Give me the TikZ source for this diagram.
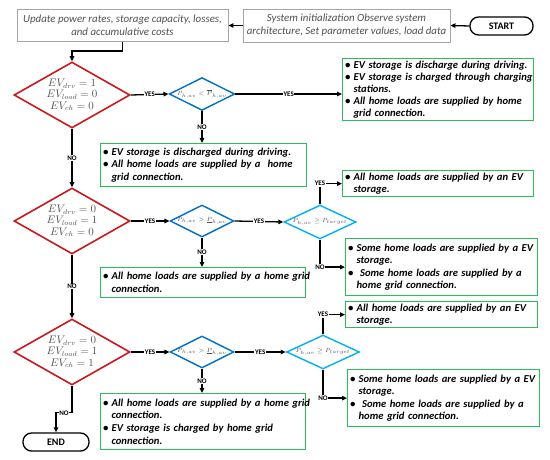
\documentclass[tikz,border=0pt]{standalone}
\usepackage{fontspec}
\usepackage{amsmath}
\newfontfamily\calfont{Carlito}
\usetikzlibrary{shapes.geometric,arrows.meta}
\definecolor{dred}{RGB}{200,25,30}
\definecolor{dblue}{RGB}{0,112,192}
\definecolor{dcyan}{RGB}{0,176,240}
\definecolor{bgreen}{RGB}{40,190,90}
\definecolor{gline}{RGB}{165,165,165}
\definecolor{gtext}{RGB}{80,80,80}
% bullet line helpers: \bo{single line}, \bt{first line}{second line}
\newcommand\bo[1]{\makebox[8.5pt][l]{\textbullet}\mbox{#1}}
\newcommand\bt[2]{\makebox[8.5pt][l]{\textbullet}\mbox{#1}\\\hspace*{8.5pt}\mbox{#2}}
\tikzset{
  gbox/.style={draw=bgreen, line width=1.2pt, rectangle, anchor=north west, inner xsep=2.5pt,
    inner ysep=1pt, align=left, font=\calfont\bfseries\itshape\fontsize{10.6}{12.6}\selectfont},
  graybox/.style={draw=gline, line width=0.9pt, rectangle, align=center, inner sep=2pt,
    text=gtext, font=\calfont\itshape\fontsize{10.9}{13}\selectfont},
  term/.style={draw=black, line width=1.3pt, rounded corners=8.5pt, inner sep=0pt,
    font=\calfont\bfseries\fontsize{10}{10}\selectfont},
  bigdia/.style={diamond, draw=dred, line width=1.6pt, inner sep=0pt, shape aspect=1.76,
    minimum width=116pt, minimum height=66pt, text=gtext, align=center,
    font=\fontsize{10.5}{11.4}\selectfont},
  smdia/.style={diamond, draw=#1, line width=1.4pt, inner sep=0pt, shape aspect=2,
    text=gtext, font=\fontsize{6.3}{7}\selectfont},
  lbl/.style={fill=white, inner sep=0.6pt, font=\calfont\bfseries\fontsize{7}{7}\selectfont},
  arr/.style={draw=black, line width=1.3pt, -{Triangle[length=5pt,width=4.5pt]}},
}
\begin{document}
\begin{tikzpicture}[x=1pt,y=-1pt]
\useasboundingbox (0,0) rectangle (550,460);
% top row
\node[term, minimum width=63pt, minimum height=18pt] (start) at (501.5,26) {START};
\node[graybox, minimum width=207pt, minimum height=33pt] (init) at (346.5,25.5)
  {System initialization Observe system\\architecture, Set parameter values, load data};
\node[graybox, minimum width=211pt, minimum height=32pt] (upd) at (122.5,25.5)
  {Update power rates, storage capacity, losses,\\and accumulative costs};
% decision diamonds
\node[bigdia] (d1) at (72,95) {$EV_{drv}=1$\\$EV_{load}=0$\\$EV_{ch}=0$};
\node[bigdia] (d2) at (72,221) {$EV_{drv}=0$\\$EV_{load}=1$\\$EV_{ch}=0$};
\node[bigdia] (d3) at (72,352) {$EV_{drv}=0$\\$EV_{load}=1$\\$EV_{ch}=1$};
\node[smdia=dblue, minimum width=63pt, minimum height=32pt] (s1) at (202,94) {$P_{h,av}<\overline{P}_{h,av}$};
\node[smdia=dblue, minimum width=63pt, minimum height=32pt] (s2) at (202,221) {$P_{h,av}>\underline{P}_{h,av}$};
\node[smdia=dcyan, minimum width=72pt, minimum height=28pt] (s3) at (320,222) {$P_{h,av}\geq P_{target}$};
\node[smdia=dblue, minimum width=63pt, minimum height=32pt] (s4) at (202,352) {$P_{h,av}>\underline{P}_{h,av}$};
\node[smdia=dcyan, minimum width=73pt, minimum height=28pt] (s5) at (323,352) {$P_{h,av}\geq P_{target}$};
% result boxes
\node[gbox, text width=186pt, minimum height=62pt, font=\calfont\bfseries\itshape\fontsize{10.6}{12.1}\selectfont] (b1) at (342,58)
  {\bo{EV storage is discharge during driving.}\\\bt{EV storage is charged through charging}{stations.}\\\bt{All home loads are supplied by home}{grid connection.}};
\node[gbox, text width=201pt, minimum height=43pt] (b2) at (100,143)
  {\bo{EV storage is discharged during driving.}\\\bt{All home loads are supplied by a~ home}{grid connection.}};
\node[gbox, text width=186pt, minimum height=26pt] (b3) at (342,170)
  {\bt{All home loads are supplied by an EV}{storage.}};
\node[gbox, text width=187pt, minimum height=57pt] (b4) at (345,238)
  {\bt{Some home loads are supplied by a EV}{storage.}\\\bt{~Some home loads are supplied by a}{home grid connection.}};
\node[gbox, text width=200pt, minimum height=30pt] (b5) at (100,267)
  {\bt{All home loads are supplied by a home grid}{connection.}};
\node[gbox, text width=187pt, minimum height=26pt] (b6) at (345,301)
  {\bt{All home loads are supplied by an EV}{storage.}};
\node[gbox, text width=187pt, minimum height=57pt] (b7) at (347,369)
  {\bt{Some home loads are supplied by a EV}{storage.}\\\bt{~Some home loads are supplied by a}{home grid connection.}};
\node[gbox, text width=200pt, minimum height=56pt] (b8) at (100,393)
  {\bt{All home loads are supplied by a home grid}{connection.}\\\bt{EV storage is charged by home grid}{connection.}};
\node[term, minimum width=66pt, minimum height=18pt] (end) at (56,442) {END};
% connectors
\draw[arr] (start.west) -- (init.east);
\draw[arr] (init.west) -- (upd.east);
\draw[arr] (upd.south) -- ++(0,9) -| (d1.north);
\draw[arr] (d1.east) -- node[lbl]{YES} (s1.west);
\draw[arr] (s1.east) -- node[lbl]{YES} (b1.west |- s1.east);
\draw[arr] (s1.south) -- node[lbl]{NO} (s1.south |- b2.north);
\draw[arr] (d1.south) -- node[lbl]{NO} (d2.north);
\draw[arr] (d2.east) -- node[lbl]{YES} (s2.west);
\draw[arr] (s2.east) -- node[lbl]{YES} (s3.west);
\draw[arr] (s3.north) |- node[lbl]{YES} (b3.west);
\draw[arr] (s3.south) |- node[lbl]{NO} (b4.west);
\draw[arr] (s2.south) -- node[lbl]{NO} (s2.south |- b5.north);
\draw[arr] (d2.south) -- node[lbl]{NO} (d3.north);
\draw[arr] (d3.east) -- node[lbl]{YES} (s4.west);
\draw[arr] (s4.east) -- node[lbl]{YES} (s5.west);
\draw[arr] (s5.north) |- node[lbl]{YES} (b6.west);
\draw[arr] (s5.south) |- node[lbl]{NO} (b7.west);
\draw[arr] (s4.south) -- node[lbl]{NO} (s4.south |- b8.north);
\draw[arr] (d3.south) -- ++(0,27) -| node[lbl,pos=0.25]{NO} (end.north);
\end{tikzpicture}
\end{document}
